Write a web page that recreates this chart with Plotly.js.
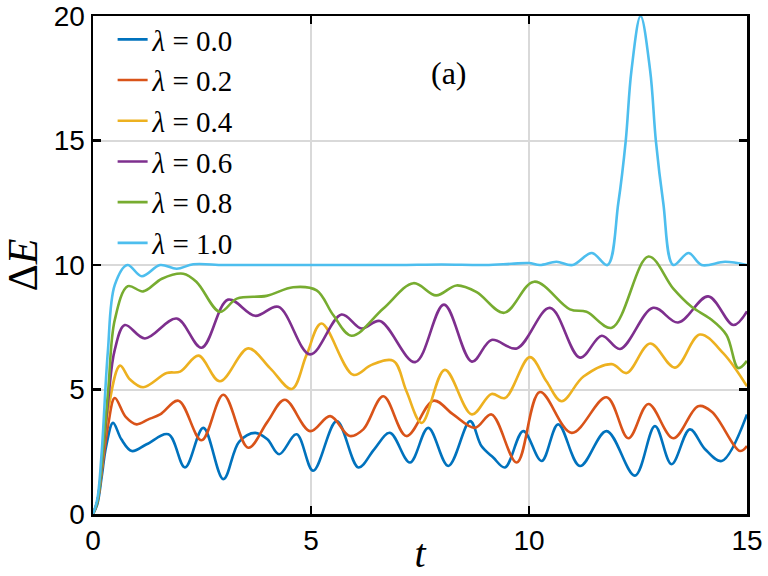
<!DOCTYPE html>
<html>
<head>
<meta charset="utf-8">
<script src="https://cdn.plot.ly/plotly-3.0.1.min.js"></script>
<style>html,body{margin:0;padding:0;background:#fff;}#chart{width:768px;height:576px;}</style>
</head>
<body>
<div id="chart"></div>
<script>
// ---- data ----
const seriesNames = ["<i>λ</i> = 0.0", "<i>λ</i> = 0.2", "<i>λ</i> = 0.4", "<i>λ</i> = 0.6", "<i>λ</i> = 0.8", "<i>λ</i> = 1.0"];
const seriesColors = ["#0072BD", "#D95319", "#EDB120", "#7E2F8E", "#77AC30", "#4DBEEE"];

const t0 = [0,0.1,0.2,0.3,0.46,0.65,0.89,1.23,1.73,2.11,2.53,2.99,3.35,3.72,4.0,4.27,4.67,5.05,5.59,6.09,6.45,6.81,7.27,7.69,8.15,8.65,8.91,9.18,9.45,9.87,10.29,10.67,11.17,11.78,12.43,12.89,13.27,13.69,14.04,14.42,15];
const e0 = [0,0.4,1.5,2.7,3.66,3.0,2.53,2.8,3.2,1.87,3.46,1.40,2.9,3.26,3.0,2.40,3.2,1.74,3.73,1.87,2.6,3.26,2.07,3.46,1.93,3.73,2.73,2.27,1.87,3.33,2.13,3.6,1.93,3.33,1.54,3.53,2.0,3.40,2.6,2.13,4.0];

const t1 = [0,0.1,0.2,0.35,0.5,0.75,1.0,1.27,1.54,1.96,2.49,2.99,3.56,4.0,4.40,4.98,5.44,5.89,6.2,6.66,7.19,7.81,8.26,8.76,9.14,9.72,10.25,10.98,11.78,12.28,12.74,13.31,13.88,14.2,14.84,15];
const e1 = [0,0.5,1.7,3.6,4.66,3.9,3.6,3.8,4.0,4.55,2.96,4.79,2.66,3.7,4.59,3.33,3.93,3.13,3.4,4.73,3.13,4.55,4.0,3.46,4.0,2.07,4.90,3.26,4.69,3.04,4.42,3.04,4.33,4.1,2.53,2.73];

const t2 = [0,0.1,0.2,0.35,0.62,0.85,1.15,1.69,2.0,2.42,2.91,3.56,4.06,4.56,4.9,5.24,5.97,6.39,6.89,7.19,7.54,8.07,8.69,9.14,9.45,10.02,10.4,10.75,11.25,11.90,12.24,12.78,13.35,13.92,14.46,15];
const e2 = [0,0.5,1.8,4.2,5.96,5.4,5.09,5.66,5.72,6.36,5.33,6.65,5.86,5.02,6.4,7.65,5.59,5.99,6.15,4.93,3.66,5.79,4.0,4.82,4.66,6.3,5.33,4.53,5.52,6.02,5.66,6.85,5.88,7.21,6.45,5.13];

const t3 = [0,0.1,0.2,0.35,0.5,0.73,1.19,1.92,2.49,3.10,3.72,4.25,4.98,5.70,6.16,6.58,7.39,8.05,8.69,9.14,9.72,10.48,11.17,11.67,12.09,12.85,13.42,14.11,14.69,15];
const e3 = [0,0.5,1.9,4.6,6.6,7.59,7.05,7.85,6.68,8.61,7.96,8.32,6.41,8.01,7.45,7.75,6.1,8.41,6.12,6.99,6.65,8.28,6.28,7.16,6.63,8.28,7.69,8.74,7.59,8.14];

const t4 = [0,0.1,0.2,0.35,0.5,0.8,1.15,1.58,2.07,2.38,2.91,3.30,3.98,4.59,5.13,5.51,5.93,6.66,7.35,7.87,8.34,8.80,9.43,10.12,10.94,11.32,11.90,12.74,13.31,13.73,14.15,14.53,14.80,15];
const e4 = [0,0.5,2.0,5.0,7.8,9.15,8.94,9.45,9.65,9.31,8.12,8.65,8.76,9.11,8.98,7.99,7.16,8.25,9.27,8.78,9.18,8.91,8.08,9.33,8.22,8.12,7.48,10.34,9.05,8.32,7.85,7.19,5.86,6.15];

const t5 = [0,0.1,0.2,0.34,0.5,0.79,1.12,1.54,1.92,2.3,3,4,5,6,7,8,9,9.6,10.0,10.25,10.63,11.0,11.44,11.80,12.05,12.22,12.35,12.56,12.78,12.91,13.08,13.31,13.66,13.96,14.5,15];
const e5 = [0,0.6,2.5,6.5,9.2,10.0,9.55,10.0,9.85,10.03,10.0,10.0,10.0,10.0,10.0,10.02,10.0,10.05,10.08,10.0,10.13,10.0,10.48,10.0,12.5,15,17.8,20,17.8,15,12.5,10.0,10.48,10.0,10.13,10.0];

const tSeries = [t0, t1, t2, t3, t4, t5];
const eSeries = [e0, e1, e2, e3, e4, e5];

const xTicks = [0, 5, 10, 15];
const yTicks = [0, 5, 10, 15, 20];

const traces = tSeries.map((t, i) => ({
  x: t, y: eSeries[i], type: 'scatter', mode: 'lines', name: seriesNames[i],
  line: {color: seriesColors[i], width: 2.6, shape: 'spline', smoothing: 1}
}));

const axisCommon = {
  showline: true, linecolor: '#000', linewidth: 2.5, mirror: 'ticks',
  ticks: 'inside', ticklen: 8, tickwidth: 2.5, tickcolor: '#000',
  showgrid: true, gridcolor: '#d9d9d9', gridwidth: 2, zeroline: false,
  ticklabeloverflow: 'allow', automargin: false,
  tickfont: {family: 'Liberation Sans, Arial, sans-serif', size: 28, color: '#000'}
};

const layout = {
  width: 768, height: 576,
  margin: {l: 93, r: 21, t: 16, b: 62, autoexpand: false},
  paper_bgcolor: '#fff', plot_bgcolor: '#fff',
  showlegend: true,
  legend: {x: 0.03, y: 1.004, xanchor: 'left', yanchor: 'top', bgcolor: 'rgba(0,0,0,0)',
           font: {family: 'Liberation Serif, Times New Roman, serif', size: 29, color: '#000'},
           tracegroupgap: 0, itemwidth: 30},
  xaxis: Object.assign({}, axisCommon, {range: [0, 15.001], tickvals: xTicks, ticktext: xTicks.map(String),
    title: {text: '<i>t</i>', font: {family: 'Liberation Serif, Times New Roman, serif', size: 40, color: '#000'}, standoff: 0}}),
  yaxis: Object.assign({}, axisCommon, {range: [0, 20.001], tickvals: yTicks, ticktext: yTicks.map(String),
    title: {text: 'Δ<i>E</i>', font: {family: 'Liberation Serif, Times New Roman, serif', size: 42, color: '#000'}, standoff: 4}}),
  annotations: [{text: '(a)', x: 0.545, y: 0.925, xref: 'paper', yref: 'paper', showarrow: false,
    font: {family: 'Liberation Serif, Times New Roman, serif', size: 32, color: '#000'}}]
};

Plotly.newPlot('chart', traces, layout, {displayModeBar: false, staticPlot: true});
</script>
</body>
</html>
